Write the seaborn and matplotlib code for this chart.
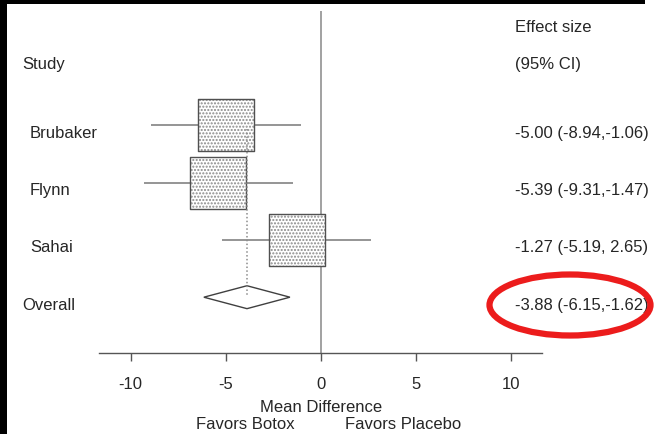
import numpy as np
import pandas as pd
import matplotlib.pyplot as plt
import seaborn as sns
from matplotlib.path import Path
from matplotlib.patches import Polygon, Ellipse, Rectangle

# data
studies = ["Brubaker", "Flynn", "Sahai"]
effect = [-5.00, -5.39, -1.27]
ci_low = [-8.94, -9.31, -5.19]
ci_high = [-1.06, -1.47, 2.65]
overall_label = "Overall"
overall_effect = -3.88
overall_low = -6.15
overall_high = -1.62
xticks = [-10, -5, 0, 5, 10]

sns.set_style("white")
plt.rcParams["font.family"] = ["Liberation Sans", "DejaVu Sans"]

TXT = "#262626"
W, H = 654, 435
row_px0, row_step = 69.0, 57.3   # pixel y of row 0 and spacing
x0_px, px_per_unit = 320.7, 19.0


def row_of(py):
    return (py - row_px0) / row_step


def x_of(px):
    return (px - x0_px) / px_per_unit


df = pd.DataFrame({"study": studies, "effect": effect, "lo": ci_low, "hi": ci_high})
df["row"] = np.arange(1, len(df) + 1)
overall_row = len(df) + 1

fig = plt.figure(figsize=(W / 100, H / 100), dpi=100)
ax = fig.add_axes([0, 0, 1, 1])
ax.set_xlim(x_of(0), x_of(W))
ax.set_ylim(row_of(H), row_of(0))

# zero line
axis_row = row_of(354)
ax.vlines(0, row_of(12), axis_row, color="#9a9a9a", lw=1.3, zorder=1)

# confidence intervals
ax.hlines(df["row"], df["lo"], df["hi"], color="#8c8c8c", lw=1.3, zorder=2)

# study boxes: stippled fill, then outline
ar = 52 / 56
box = Path([(-1, -ar), (1, -ar), (1, ar), (-1, ar), (-1, -ar)],
           [Path.MOVETO, Path.LINETO, Path.LINETO, Path.LINETO, Path.CLOSEPOLY])
size = (56 * 0.72) ** 2
sns.scatterplot(data=df, x="effect", y="row", marker=box, s=size,
                color="white", edgecolor="#8a8a8a", linewidth=0,
                hatch=".....", legend=False, ax=ax, zorder=3)
sns.scatterplot(data=df, x="effect", y="row", marker=box, s=size,
                facecolor="none", edgecolor="#505050", linewidth=1.0,
                legend=False, ax=ax, zorder=4)

# pooled estimate
ax.vlines(overall_effect, df["row"].iloc[0] + 0.06, overall_row, color="#8c8c8c",
          lw=1.1, linestyles=(0, (1, 1.5)), zorder=5)
h = 0.2
diamond = Polygon([(overall_low, overall_row), (overall_effect, overall_row - h),
                   (overall_high, overall_row), (overall_effect, overall_row + h)],
                  closed=True, facecolor="white", edgecolor="#404040", lw=1.0, zorder=4)
ax.add_patch(diamond)

# axis
for s in ["left", "right", "top"]:
    ax.spines[s].set_visible(False)
ax.spines["bottom"].set_position(("data", axis_row))
ax.spines["bottom"].set_bounds(x_of(99), x_of(542))
ax.spines["bottom"].set_color("#555555")
ax.spines["bottom"].set_linewidth(1.0)
ax.set_xticks(xticks)
ax.set_xticklabels([str(t) for t in xticks])
ax.tick_params(axis="x", direction="out", length=5.5, width=1.0, color="#555555",
               labelsize=12, labelcolor=TXT, pad=11, bottom=True)
ax.set_yticks([])
ax.set_xlabel("")
ax.set_ylabel("")

ax.text(0, row_of(408), "Mean Difference", ha="center", va="center", fontsize=12, color=TXT)
ax.text(x_of(245), row_of(424.5), "Favors Botox", ha="center", va="center", fontsize=12, color=TXT)
ax.text(x_of(403), row_of(424.5), "Favors Placebo", ha="center", va="center", fontsize=12, color=TXT)

# text columns
txt_off = 0.12
ax.text(x_of(22), row_of(64.5), "Study", ha="left", va="center", fontsize=12, color=TXT)
ax.text(x_of(515), row_of(27), "Effect size", ha="left", va="center", fontsize=12, color=TXT)
ax.text(x_of(515), row_of(64.5), "(95% CI)", ha="left", va="center", fontsize=12, color=TXT)
for _, r in df.iterrows():
    ax.text(x_of(30), r["row"] + txt_off, r["study"], ha="left", va="center",
            fontsize=12, color=TXT)
    ax.text(x_of(515), r["row"] + txt_off,
            f"{r['effect']:.2f} ({r['lo']:.2f},{r['hi']: .2f})",
            ha="left", va="center", fontsize=12, color=TXT)
ax.text(x_of(22), overall_row + txt_off, overall_label, ha="left", va="center",
        fontsize=12, color=TXT)
ax.text(x_of(515), overall_row + txt_off,
        f"{overall_effect:.2f} ({overall_low:.2f},{overall_high:.2f})",
        ha="left", va="center", fontsize=12, color=TXT)

# red highlight around the pooled result
fig.patches.append(Ellipse((570 / W, 1 - 306 / H), 161 / W, 61 / H,
                           transform=fig.transFigure, fill=False,
                           edgecolor="#ec1c1c", lw=4.5, zorder=10))

# black frame edges of the screenshot
fig.patches.append(Rectangle((0, 0), 7 / W, 1, transform=fig.transFigure,
                             facecolor="black", edgecolor="none", zorder=11))
fig.patches.append(Rectangle((0, 1 - 5 / H), 645 / W, 5 / H, transform=fig.transFigure,
                             facecolor="black", edgecolor="none", zorder=11))

fig.savefig("out.png", dpi=100)
